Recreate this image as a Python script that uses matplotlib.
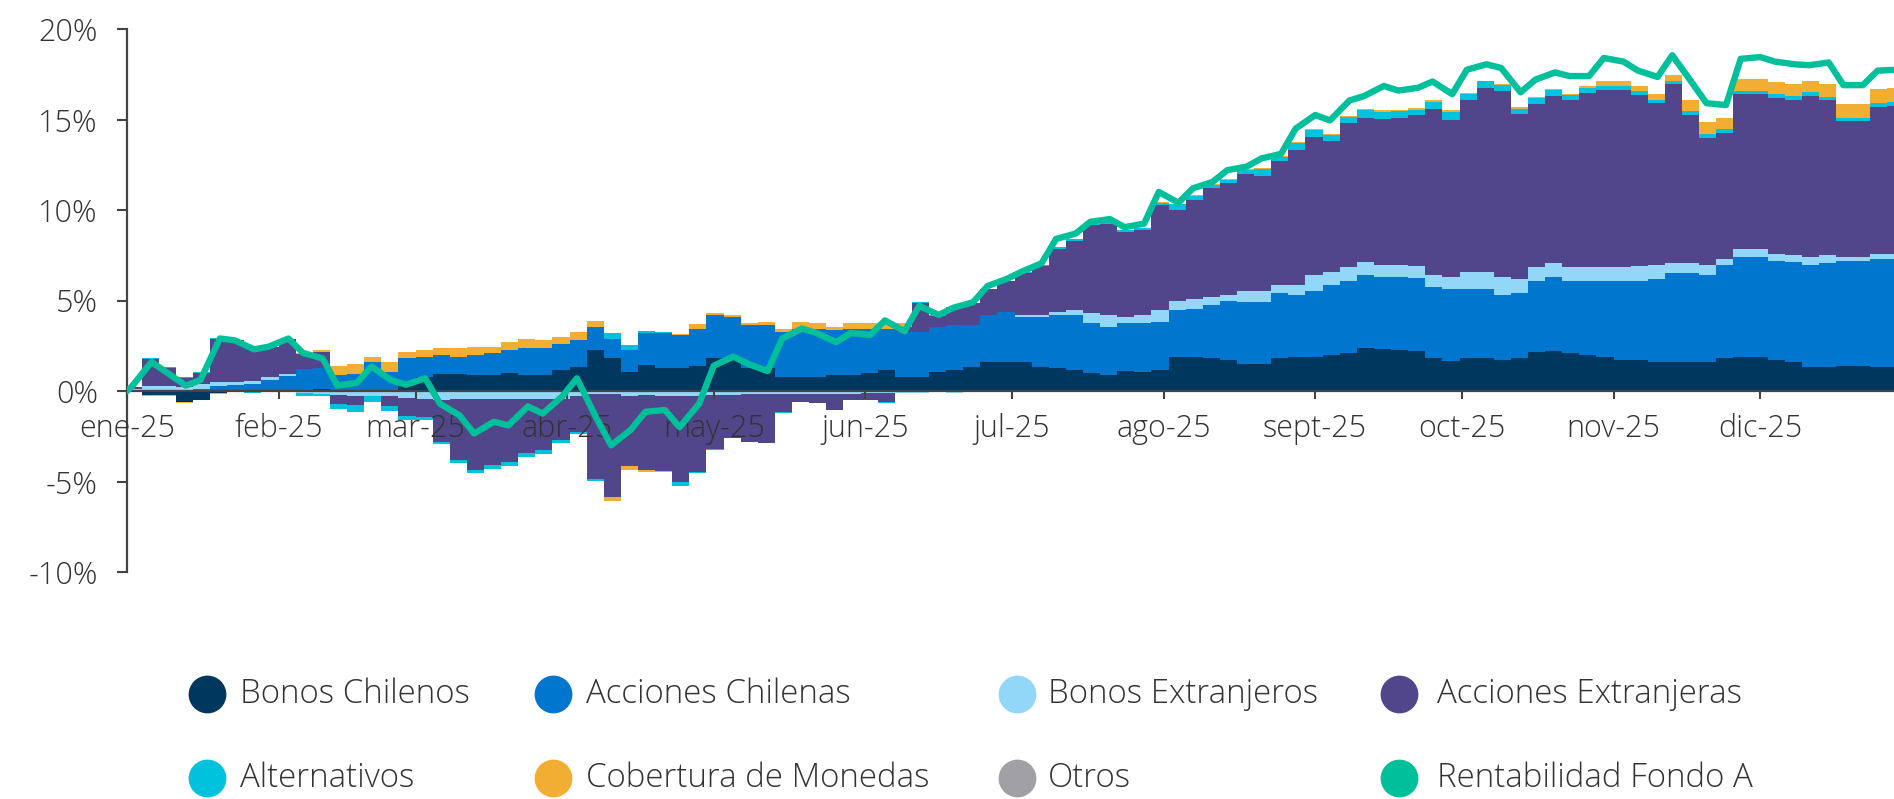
import matplotlib
matplotlib.use("Agg")
import matplotlib.pyplot as plt
import matplotlib.dates as mdates
import numpy as np
import pandas as pd

# fechas de corte (lunes y jueves), partiendo del 1 de enero en 0
FECHAS = pd.DatetimeIndex(["2025-01-01"]).append(
    pd.date_range("2025-01-02", "2025-12-29", freq="W-THU")
    .union(pd.date_range("2025-01-02", "2025-12-29", freq="W-MON")))

MESES = ["ene-25", "feb-25", "mar-25", "abr-25", "may-25", "jun-25",
         "jul-25", "ago-25", "sept-25", "oct-25", "nov-25", "dic-25"]

# contribucion acumulada por clase de activo (%)
bonos_chilenos = [
    0, 0, -0.2, -0.2, -0.6, -0.5, -0.1, 0, 0, 0,
    0, 0.05, 0.1, 0.05, 0, 0, 0, 0.4, 0.8, 0.95,
    0.95, 0.9, 0.9, 1.0, 0.9, 0.9, 1.15, 1.35, 2.25, 1.8,
    1.05, 1.45, 1.25, 1.25, 1.4, 1.8, 1.7, 1.25, 1.25, 0.75,
    0.8, 0.8, 0.9, 0.9, 1.0, 1.15, 0.8, 0.8, 1.05, 1.15,
    1.3, 1.6, 1.6, 1.6, 1.35, 1.25, 1.15, 1.0, 0.9, 1.1,
    1.05, 1.15, 1.9, 1.9, 1.8, 1.7, 1.5, 1.5, 1.8, 1.9,
    1.9, 2.0, 2.1, 2.35, 2.3, 2.25, 2.2, 1.8, 1.65, 1.8,
    1.8, 1.7, 1.8, 2.15, 2.2, 2.1, 2.0, 1.9, 1.7, 1.7,
    1.6, 1.6, 1.6, 1.6, 1.8, 1.9, 1.9, 1.7, 1.6, 1.35,
    1.35, 1.4, 1.4, 1.35, 1.3]
acciones_chilenas = [
    0, 0.05, 0, 0, 0, 0.1, 0.3, 0.35, 0.4, 0.6,
    0.85, 1.15, 1.15, 0.85, 0.95, 1.6, 1.05, 1.4, 1.1, 1.05,
    0.95, 1.1, 1.2, 1.25, 1.45, 1.45, 1.45, 1.45, 1.3, 1.1,
    1.2, 1.75, 1.95, 1.85, 2.05, 2.4, 2.4, 2.4, 2.4, 2.5,
    2.65, 2.65, 2.45, 2.55, 2.45, 2.3, 2.45, 2.45, 2.5, 2.5,
    2.35, 2.6, 2.75, 2.5, 2.75, 2.95, 3.05, 2.75, 2.65, 2.65,
    2.7, 2.65, 2.55, 2.65, 2.95, 3.3, 3.4, 3.4, 3.6, 3.4,
    3.65, 3.85, 3.95, 4.05, 4.0, 4.05, 4.05, 3.95, 4.0, 3.85,
    3.85, 3.6, 3.6, 3.9, 4.1, 4.0, 4.1, 4.15, 4.35, 4.35,
    4.6, 4.9, 4.9, 4.8, 5.15, 5.5, 5.5, 5.5, 5.5, 5.6,
    5.7, 5.8, 5.8, 5.95, 6.0]
bonos_extranjeros = [
    0, 0.05, 0.25, 0.25, 0.2, 0.3, 0.2, 0.15, 0.15, 0.15,
    0.1, -0.1, -0.15, -0.2, -0.3, -0.3, -0.25, -0.4, -0.45, -0.5,
    -0.45, -0.45, -0.45, -0.45, -0.45, -0.45, -0.45, -0.3, -0.15, -0.15,
    -0.25, -0.2, -0.3, -0.3, -0.3, -0.2, -0.2, -0.15, -0.15, -0.15,
    -0.15, -0.15, -0.15, -0.15, -0.1, -0.1, -0.1, -0.1, -0.05, -0.1,
    -0.05, -0.05, 0, 0.1, 0.1, 0.15, 0.25, 0.55, 0.65, 0.35,
    0.45, 0.65, 0.55, 0.55, 0.45, 0.3, 0.6, 0.6, 0.45, 0.55,
    0.85, 0.75, 0.8, 0.75, 0.65, 0.65, 0.65, 0.65, 0.65, 0.95,
    0.95, 1.0, 0.8, 0.8, 0.75, 0.75, 0.75, 0.8, 0.8, 0.85,
    0.75, 0.55, 0.55, 0.55, 0.35, 0.45, 0.45, 0.35, 0.4, 0.45,
    0.45, 0.2, 0.2, 0.25, 0.25]
acciones_extranjeras = [
    0, 0.1, 1.5, 1.0, 0.5, 0.6, 2.4, 2.3, 1.8, 1.7,
    1.9, 0.85, 0.9, -0.5, -0.45, 0, -0.6, -1.0, -1.0, -2.3,
    -3.35, -3.9, -3.65, -3.5, -3.0, -2.8, -2.25, -1.95, -4.7, -5.7,
    -3.9, -4.15, -4.1, -4.7, -4.15, -3.0, -2.4, -2.65, -2.75, -1.0,
    -0.45, -0.5, -0.9, -0.35, -0.4, -0.5, 0.3, 1.6, 0.6, 1.0,
    1.2, 1.45, 1.75, 2.3, 2.7, 3.5, 3.85, 4.85, 5.0, 4.7,
    4.7, 5.8, 5.0, 5.45, 6.0, 6.2, 6.5, 6.4, 6.85, 7.45,
    7.65, 7.2, 7.95, 7.95, 8.1, 8.15, 8.35, 9.2, 8.7, 9.45,
    10.15, 10.25, 9.1, 9.0, 9.25, 9.2, 9.6, 9.8, 9.8, 9.45,
    8.95, 9.9, 8.2, 7.05, 6.95, 8.55, 8.55, 8.65, 8.6, 8.9,
    8.55, 7.5, 7.5, 8.15, 8.2]
alternativos = [
    0, 0, 0.05, 0.1, 0.1, 0.05, 0.05, 0, -0.1, 0,
    0, -0.15, -0.15, -0.3, -0.4, -0.3, -0.25, -0.2, -0.15, -0.15,
    -0.2, -0.2, -0.2, -0.2, -0.2, -0.25, -0.15, -0.15, -0.1, 0.3,
    0.3, 0.1, 0.05, -0.25, -0.1, -0.05, 0, 0, 0, -0.05,
    0, 0, 0, 0, 0, -0.05, 0, 0.05, 0.05, 0,
    0, 0, -0.05, 0.05, 0.05, 0.1, 0.1, 0.1, 0.15, 0.1,
    0.1, 0.15, 0.35, 0.25, 0.2, 0.15, 0.2, 0.35, 0.25, 0.4,
    0.35, 0.35, 0.35, 0.4, 0.35, 0.35, 0.3, 0.35, 0.4, 0.35,
    0.35, 0.35, 0.3, 0.35, 0.35, 0.3, 0.3, 0.2, 0.2, 0.2,
    0.2, 0.2, 0.2, 0.2, 0.2, 0.2, 0.2, 0.2, 0.2, 0.2,
    0.2, 0.2, 0.2, 0.2, 0.2]
cobertura_monedas = [
    0, -0.05, -0.05, -0.05, -0.05, 0, -0.05, 0, 0, 0,
    0, 0.05, 0.1, 0.5, 0.55, 0.3, 0.55, 0.35, 0.35, 0.35,
    0.45, 0.45, 0.35, 0.45, 0.55, 0.45, 0.4, 0.45, 0.3, -0.2,
    -0.2, -0.15, -0.1, 0.05, 0.25, 0.1, 0.1, 0.1, 0.15, 0.2,
    0.35, 0.3, 0.2, 0.3, 0.3, 0.35, 0.2, 0, 0, 0,
    0, 0, 0, 0, 0, 0, 0, 0, 0, 0,
    0, 0.05, 0, 0.05, 0.05, 0.05, 0.05, 0.05, 0.05, 0.05,
    0.05, 0.05, 0.05, 0.1, 0.1, 0.1, 0.1, 0.1, 0.1, 0.05,
    0.05, 0.05, 0.1, 0.05, 0.05, 0.05, 0.1, 0.3, 0.3, 0.3,
    0.3, 0.3, 0.6, 0.65, 0.65, 0.65, 0.65, 0.65, 0.65, 0.6,
    0.7, 0.75, 0.75, 0.8, 0.8]
otros = [0] * 105
rentabilidad_fondo_a = [
    0, 0.25, 1.6, 1.05, 0.3, 0.6, 2.9, 2.8, 2.3, 2.45,
    2.9, 2.1, 1.8, 0.3, 0.45, 1.35, 0.6, 0.35, 0.7, -0.7,
    -1.35, -2.35, -1.7, -1.9, -0.85, -1.25, -0.3, 0.7, -1.5, -3.0,
    -2.15, -1.15, -1.05, -2.0, -0.7, 1.4, 1.9, 1.5, 1.1, 2.9,
    3.45, 3.2, 2.7, 3.2, 3.1, 3.9, 3.3, 4.7, 4.2, 4.6,
    4.9, 5.8, 6.2, 6.6, 7.05, 8.4, 8.7, 9.35, 9.5, 9.05,
    9.25, 11.0, 10.4, 11.2, 11.55, 12.2, 12.4, 12.85, 13.1, 14.5,
    15.25, 14.95, 16.05, 16.3, 16.85, 16.6, 16.75, 17.1, 16.4, 17.75,
    18.05, 17.85, 16.5, 17.2, 17.6, 17.4, 17.4, 18.4, 18.2, 17.7,
    17.35, 18.55, 17.05, 15.9, 15.8, 18.35, 18.45, 18.2, 18.05, 18.0,
    18.15, 16.9, 16.9, 17.7, 17.75]

C_BC, C_AC, C_BE, C_AE = "#00375F", "#0076CE", "#92D6F8", "#514689"
C_ALT, C_COB, C_OT, C_REN = "#00C2DC", "#F2AE33", "#A0A0A6", "#00BF9B"
C_TXT, C_AX = "#333333", "#444444"

SERIES = [
    ("Bonos Chilenos", bonos_chilenos, C_BC),
    ("Acciones Chilenas", acciones_chilenas, C_AC),
    ("Bonos Extranjeros", bonos_extranjeros, C_BE),
    ("Acciones Extranjeras", acciones_extranjeras, C_AE),
    ("Alternativos", alternativos, C_ALT),
    ("Cobertura de Monedas", cobertura_monedas, C_COB),
    ("Otros", otros, C_OT),
]

plt.rcParams["font.family"] = ["Open Sans", "DejaVu Sans"]
plt.rcParams["font.weight"] = "light"

W, H = 1894, 799
fig = plt.figure(figsize=(W / 100, H / 100), dpi=100)
ax = fig.add_axes([127 / W, 1 - 572 / H, 1 - 127 / W, (572 - 29) / H])
ax.set_axisbelow(False)  # etiquetas de meses sobre las barras

x = mdates.date2num(FECHAS)
pos = np.zeros(len(x))
neg = np.zeros(len(x))
for name, vals, color in SERIES:
    v = np.asarray(vals, dtype=float)
    vp = np.clip(v, 0, None)
    vn = np.clip(v, None, 0)
    ax.fill_between(x, pos, pos + vp, step="mid", color=color, lw=0,
                    antialiased=False, zorder=2)
    ax.fill_between(x, neg + vn, neg, step="mid", color=color, lw=0,
                    antialiased=False, zorder=2)
    pos = pos + vp
    neg = neg + vn

ax.plot(x, rentabilidad_fondo_a, color=C_REN, lw=4.6, zorder=4,
        solid_joinstyle="round", solid_capstyle="round")

start = mdates.date2num(pd.Timestamp("2025-01-01"))
ax.set_xlim(start, start + (W - 127) / 4.89)
ax.set_ylim(-10, 20)

yt = list(range(-10, 25, 5))
ax.set_yticks(yt)
ax.set_yticklabels([f"{v}%" for v in yt])
ax.set_xticks(mdates.date2num(pd.date_range("2025-01-01", periods=12, freq="MS")))
ax.set_xticklabels(MESES)

for s in ("top", "right"):
    ax.spines[s].set_visible(False)
ax.spines["bottom"].set_position(("data", 0))
ax.spines["bottom"].set_color(C_AX)
ax.spines["bottom"].set_linewidth(1.6)
ax.spines["left"].set_color(C_AX)
ax.spines["left"].set_linewidth(1.6)
ax.tick_params(axis="x", length=6, width=1.5, color=C_AX, pad=10,
               labelsize=22, labelcolor=C_TXT)
ax.tick_params(axis="y", length=7, width=1.5, color=C_AX, pad=14,
               labelsize=22, labelcolor=C_TXT)
ax.patch.set_alpha(0)

# leyenda manual en dos filas
lax = fig.add_axes([0, 0, 1, 1], zorder=-1)
lax.set_xlim(0, W)
lax.set_ylim(H, 0)
lax.axis("off")
items = SERIES + [("Rentabilidad Fondo A", None, C_REN)]
cols = [(207, 240), (553, 586), (1017, 1048), (1399, 1437)]
rows = [694, 778]
for i, (name, _, color) in enumerate(items):
    cx, tx = cols[i % 4]
    cy = rows[i // 4]
    lax.scatter([cx], [cy], s=740, color=color, lw=0)
    lax.text(tx, cy, name, va="center", ha="left", fontsize=23.8, color=C_TXT)

fig.savefig("out.png", dpi=100)
